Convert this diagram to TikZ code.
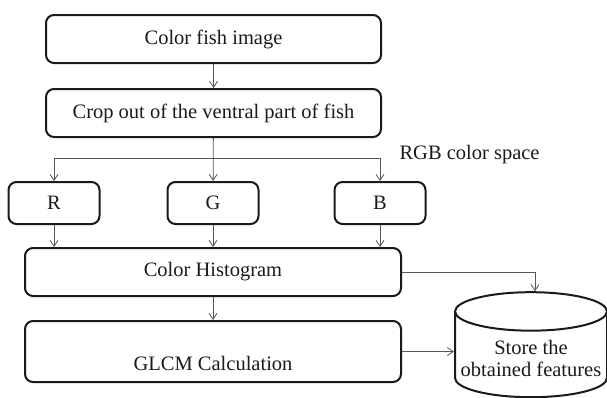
\documentclass[tikz,border=0pt]{standalone}
\usepackage{fontspec}
\setmainfont{Liberation Serif}
\usetikzlibrary{arrows.meta,positioning,calc,shapes.geometric}
\definecolor{FlowInk}{HTML}{1A1A1A}
\definecolor{FlowGray}{HTML}{555555}

\begin{document}
\begin{tikzpicture}[
        x=1pt, y=-1pt,
        font=\fontsize{20.5}{22}\selectfont,
        node distance=24pt and 20pt,
        stage/.style={
          draw=FlowInk,
          line width=2pt,
          rounded corners=8pt,
          align=center,
          inner sep=3pt,
          text=FlowInk,
          minimum width=335pt,
          minimum height=48pt
        },
        channel/.style={stage, minimum width=91pt, minimum height=42pt},
        wide/.style={stage, minimum width=376pt},
        database/.style={
          cylinder,
          shape border rotate=90,
          aspect=0.26,
          draw=FlowInk,
          line width=2pt,
          inner sep=2pt,
          text width=144pt,
          minimum width=152pt,
          minimum height=105pt
        },
        arrow/.style={-{Straight Barb[length=6pt,width=8pt]}, line width=0.8pt, draw=FlowGray}
      ]
        \useasboundingbox (0,0) rectangle (607,397);

        \node[stage] (input) at (213.5,39) {Color fish image};
        \node[stage, below=of input] (crop) {Crop out of the ventral part of fish};
        \coordinate (split) at (213,158);
        \node[anchor=west, text=FlowInk] (rgb) at (396,155) {RGB color space};
        \node[channel] (r) at (54,203) {R};
        \node[channel] (g) at (213,203) {G};
        \node[channel] (b) at (380,203) {B};
        \node[wide] (hist) at (213,272) {Color Histogram};
        \node[wide, below=23pt of hist, minimum height=61pt, text height=38pt] (glcm) {GLCM Calculation};
        \node[database, label={[align=center, text=FlowInk, yshift=-1pt]center:Store the\\obtained features}] (store) at (531,357) {};

        \draw[arrow] (input) -- (crop);
        \draw[arrow] (crop) -- (g);
        \draw[arrow] (split) -| (r);
        \draw[arrow] (split) -| (b);
        \draw[arrow] (r) -- (r |- hist.north);
        \draw[arrow] (g) -- (g |- hist.north);
        \draw[arrow] (b) -- (b |- hist.north);
        \draw[arrow] (hist) -- (glcm);
        \draw[arrow] (hist.east) -| ([xshift=4pt]store.north);
        \draw[arrow] (glcm.east) -- (glcm.east -| store.west);
      \end{tikzpicture}
\end{document}
